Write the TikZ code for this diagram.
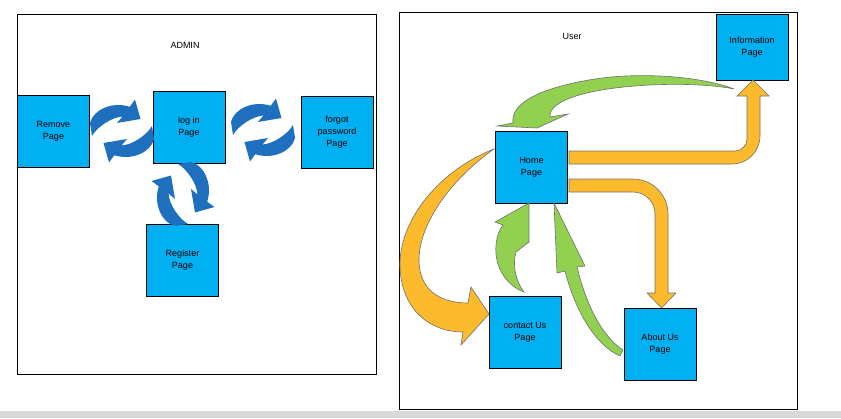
\documentclass[tikz,border=0pt]{standalone}
\usepackage{fontspec}
\setmainfont{Liberation Sans}

\definecolor{pageblue}{RGB}{0,176,240}
\definecolor{cycleblue}{RGB}{30,112,190}
\definecolor{flowgreen}{RGB}{146,208,80}
\definecolor{floworange}{RGB}{253,186,45}
\definecolor{flowedge}{RGB}{112,112,112}

\begin{document}
\begin{tikzpicture}[x=1pt, y=-1pt, font=\fontsize{9}{12}\selectfont,
    pagebox/.style={rectangle, draw, line width=0.8pt, fill=pageblue, minimum width=72pt, minimum height=72pt, inner sep=0pt, align=center},
    cyclearrow/.style={fill=cycleblue},
    greenarrow/.style={fill=flowgreen, draw=flowedge, line width=0.6pt},
    orangearrow/.style={fill=floworange, draw=flowedge, line width=0.6pt}]
    \useasboundingbox (0,0) rectangle (841,418);
    \fill[gray!30] (0,411) rectangle (841,418);

    % frames
    \draw[line width=0.8pt] (17,14) rectangle (376,374);
    \draw[line width=0.8pt] (399,12) rectangle (797,409);
    \node (admintitle) at (185,45) {ADMIN};
    \node (usertitle) at (572,36) {User};

    % admin side
    \node[pagebox] (remove) at (53.5,131) {Remove\\Page};
    \node[pagebox] (login) at (189,127) {log in\\Page};
    \node[pagebox] (forgot) at (337,132) {forgot\\password\\Page};
    \node[pagebox] (register) at (182.5,260) {Register\\Page};

    % user side
    \node[pagebox, minimum height=66pt] (info) at (752,47) {Information\\Page};
    \node[pagebox] (home) at (531.5,167) {Home\\Page};
    \node[pagebox] (contact) at (525,332.5) {contact Us\\Page};
    \node[pagebox] (about) at (660,344) {About Us\\Page};

    % cycle arrows
    \begin{scope}[shift={(122,131)}]
        \fill[cyclearrow] (-32,-8) .. controls (-29,-21) and (-10,-30) .. (7.7,-24.2) -- (13,-31.5) -- (18.5,-12) -- (-5,-8) -- (0.5,-14.5) .. controls (-10,-14) and (-25,-4) .. (-30,5) -- cycle;
        \fill[cyclearrow, rotate=180] (-32,-8) .. controls (-29,-21) and (-10,-30) .. (7.7,-24.2) -- (13,-31.5) -- (18.5,-12) -- (-5,-8) -- (0.5,-14.5) .. controls (-10,-14) and (-25,-4) .. (-30,5) -- cycle;
    \end{scope}
    \begin{scope}[shift={(263,130)}]
        \fill[cyclearrow] (-32,-8) .. controls (-29,-21) and (-10,-30) .. (7.7,-24.2) -- (13,-31.5) -- (18.5,-12) -- (-5,-8) -- (0.5,-14.5) .. controls (-10,-14) and (-25,-4) .. (-30,5) -- cycle;
        \fill[cyclearrow, rotate=180] (-32,-8) .. controls (-29,-21) and (-10,-30) .. (7.7,-24.2) -- (13,-31.5) -- (18.5,-12) -- (-5,-8) -- (0.5,-14.5) .. controls (-10,-14) and (-25,-4) .. (-30,5) -- cycle;
    \end{scope}
    \begin{scope}[shift={(183,194)}]
        \fill[cyclearrow, rotate=90] (-32,-8) .. controls (-29,-21) and (-10,-30) .. (7.7,-24.2) -- (13,-31.5) -- (18.5,-12) -- (-5,-8) -- (0.5,-14.5) .. controls (-10,-14) and (-25,-4) .. (-30,5) -- cycle;
        \fill[cyclearrow, rotate=-90] (-32,-8) .. controls (-29,-21) and (-10,-30) .. (7.7,-24.2) -- (13,-31.5) -- (18.5,-12) -- (-5,-8) -- (0.5,-14.5) .. controls (-10,-14) and (-25,-4) .. (-30,5) -- cycle;
    \end{scope}

    % orange arrows
    \draw[orangearrow] (569,151) -- (735,151) .. controls (741.6,151) and (747,145.4) .. (747,139) -- (747,96) -- (737,96) -- (753,80) -- (769,96) -- (760,96) -- (760,136) .. controls (760,151.5) and (747.5,164) .. (732,164) -- (569,164) -- cycle;
    \draw[orangearrow] (569,179) -- (633,179) .. controls (652.3,179) and (668,194.7) .. (668,214) -- (668,293) -- (676,293) -- (661.5,308) -- (647,293) -- (655,293) -- (655,214) .. controls (655,201.8) and (645.2,192) .. (633,192) -- (569,192) -- cycle;
    \draw[orangearrow] (494,149) .. controls (440,170) and (398,220) .. (400,268) .. controls (402,310) and (430,332) .. (463,332) -- (461,345) -- (489,314) -- (471,287) -- (468,303) .. controls (440,303) and (420,290) .. (419,262) .. controls (418,225) and (450,180) .. (494,149) -- cycle;

    % green arrows
    \draw[greenarrow] (734,89) .. controls (700,76) and (640,72) .. (595,79) .. controls (550,86) and (510,100) .. (513,123) -- (497,126) -- (537,128) -- (568,114) -- (550,117) .. controls (548,100) and (590,88) .. (650,85) .. controls (690,83) and (720,86) .. (734,89) -- cycle;
    \draw[greenarrow] (524,292) .. controls (505,285) and (494,265) .. (496,245) .. controls (497,235) and (500,229) .. (503,225) -- (495,222) -- (529,203) -- (529,242) -- (516,252) .. controls (512,265) and (516,282) .. (524,292) -- cycle;
    \draw[greenarrow] (557,273) -- (554,203) -- (585,266) -- (577,267) .. controls (585,300) and (600,335) .. (623,350) -- (620,356) .. controls (595,345) and (575,310) .. (565,271) -- cycle;
\end{tikzpicture}
\end{document}
